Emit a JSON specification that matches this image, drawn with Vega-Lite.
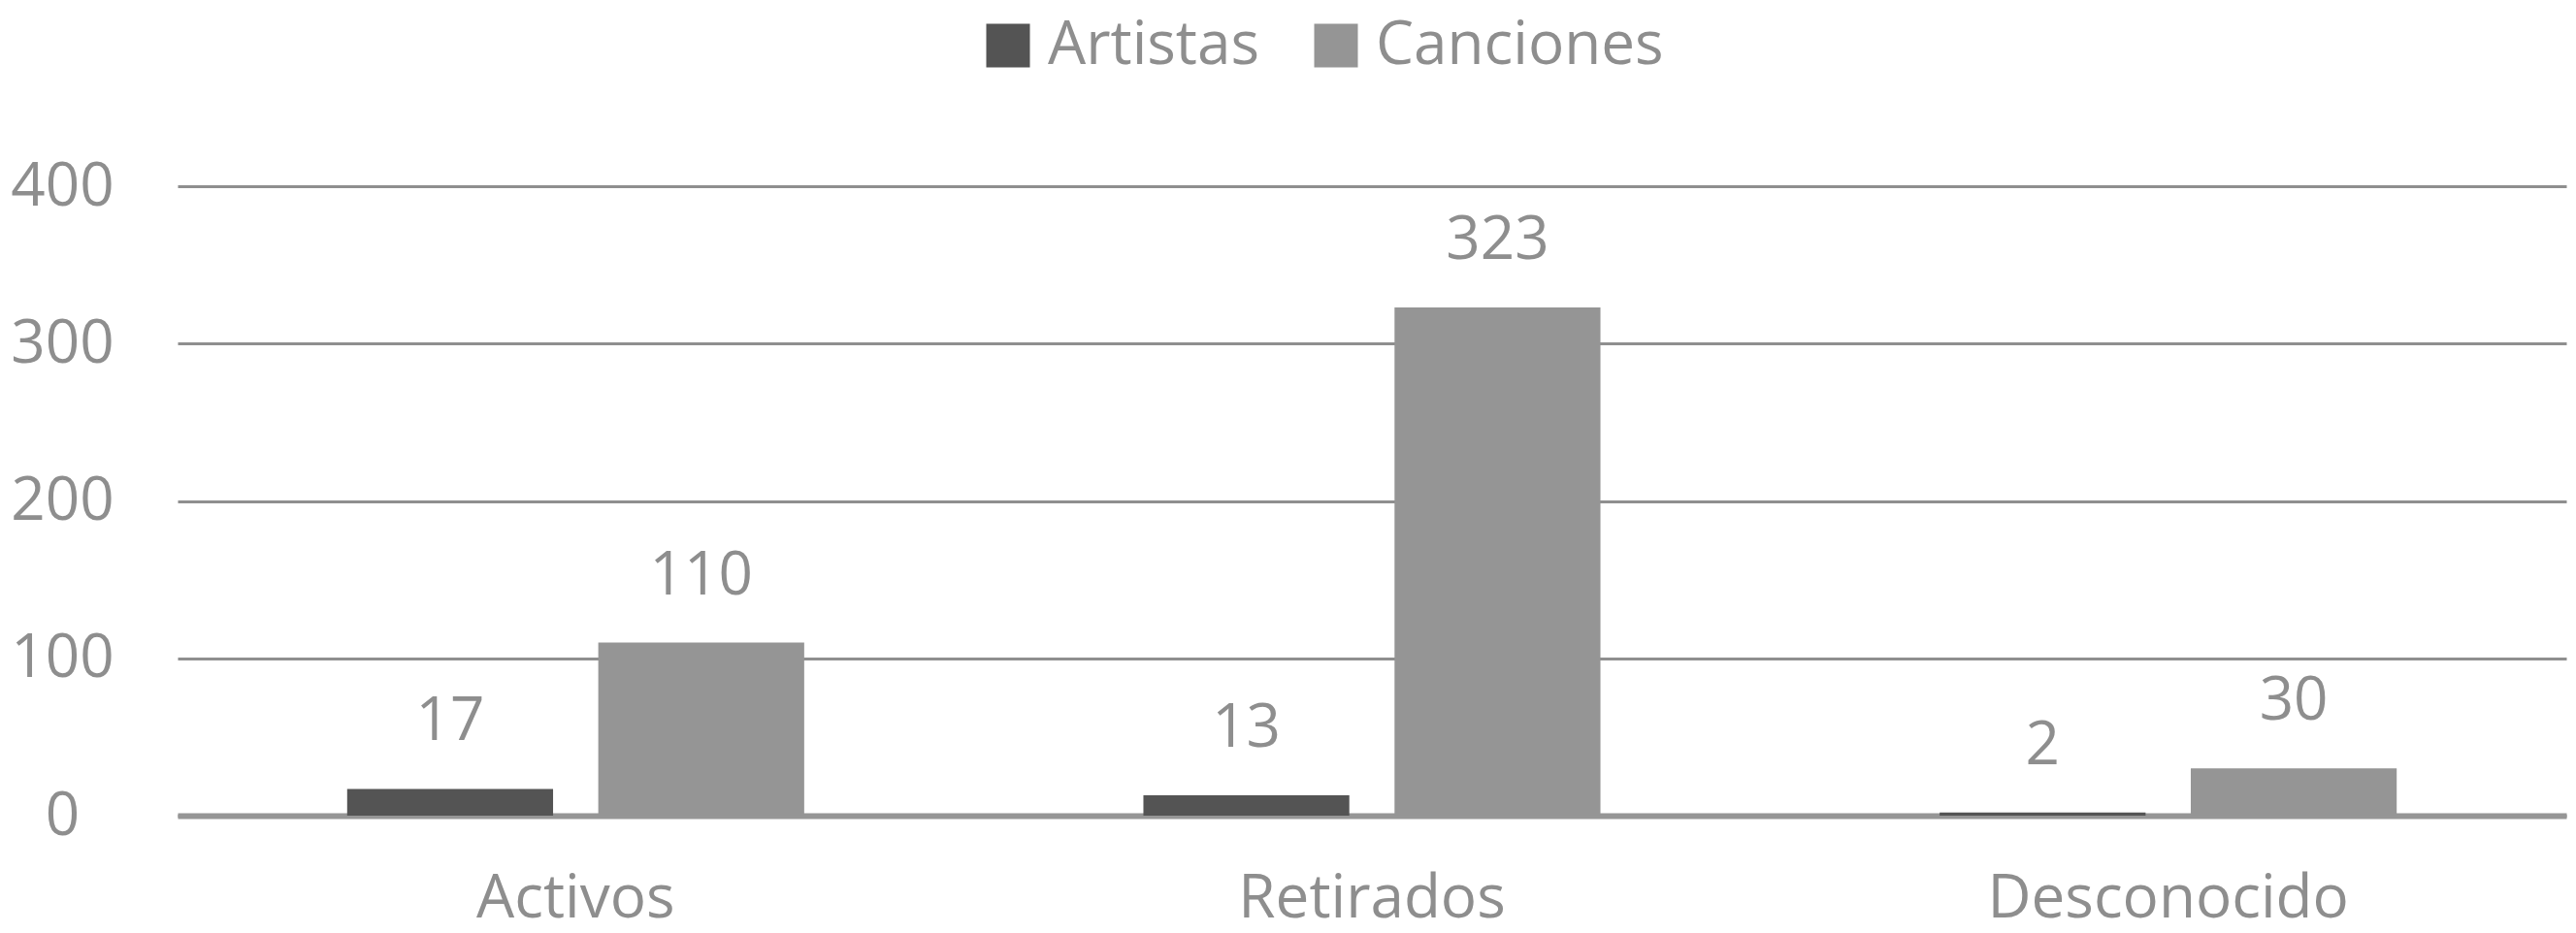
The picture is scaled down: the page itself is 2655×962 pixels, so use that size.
{
  "$schema": "https://vega.github.io/schema/vega-lite/v6.json",
  "width": 2462,
  "height": 649,
  "autosize": {"type": "none"},
  "padding": {"left": 183, "top": 192, "right": 10, "bottom": 121},
  "background": "white",
  "config": {
    "font": "Open Sans",
    "view": {"stroke": null}
  },
  "data": {
    "values": [
      {"estado": "Activos", "serie": "Artistas", "valor": 17},
      {"estado": "Activos", "serie": "Canciones", "valor": 110},
      {"estado": "Retirados", "serie": "Artistas", "valor": 13},
      {"estado": "Retirados", "serie": "Canciones", "valor": 323},
      {"estado": "Desconocido", "serie": "Artistas", "valor": 2},
      {"estado": "Desconocido", "serie": "Canciones", "valor": 30}
    ]
  },
  "encoding": {
    "x": {
      "field": "estado",
      "type": "nominal",
      "sort": ["Activos", "Retirados", "Desconocido"],
      "scale": {"paddingInner": 0.426, "paddingOuter": 0.213},
      "axis": {
        "title": null,
        "labelAngle": 0,
        "labelFontSize": 62,
        "labelColor": "#8e8e8e",
        "labelBaseline": "alphabetic",
        "labelPadding": 104,
        "labelLimit": 0,
        "ticks": false,
        "domainColor": "#969696",
        "domainWidth": 6
      }
    },
    "xOffset": {
      "field": "serie",
      "type": "nominal",
      "sort": ["Artistas", "Canciones"],
      "scale": {"paddingInner": 0.18, "paddingOuter": 0}
    },
    "y": {
      "field": "valor",
      "type": "quantitative",
      "scale": {"domain": [0, 400]},
      "axis": {
        "title": null,
        "values": [0, 100, 200, 300, 400],
        "labelFontSize": 62,
        "labelColor": "#8e8e8e",
        "labelAlign": "center",
        "labelPadding": 119,
        "labelLimit": 0,
        "ticks": false,
        "domain": false,
        "gridColor": "#8f8f8f",
        "gridWidth": 3
      }
    }
  },
  "layer": [
    {
      "mark": {"type": "bar"},
      "encoding": {
        "color": {
          "field": "serie",
          "type": "nominal",
          "sort": ["Artistas", "Canciones"],
          "scale": {"domain": ["Artistas", "Canciones"], "range": ["#545454", "#959595"]},
          "legend": {
            "title": null,
            "orient": "none",
            "direction": "horizontal",
            "legendX": 825,
            "legendY": -176,
            "symbolType": "square",
            "symbolSize": 2025,
            "symbolStrokeWidth": 0,
            "symbolOpacity": 1,
            "labelFontSize": 62,
            "labelColor": "#8e8e8e",
            "labelOffset": 10,
            "labelLimit": 0,
            "columnPadding": 48
          }
        }
      }
    },
    {
      "mark": {"type": "text", "fontSize": 62, "color": "#8e8e8e", "baseline": "alphabetic", "dy": -50},
      "encoding": {
        "text": {"field": "valor", "type": "quantitative"}
      }
    }
  ]
}
